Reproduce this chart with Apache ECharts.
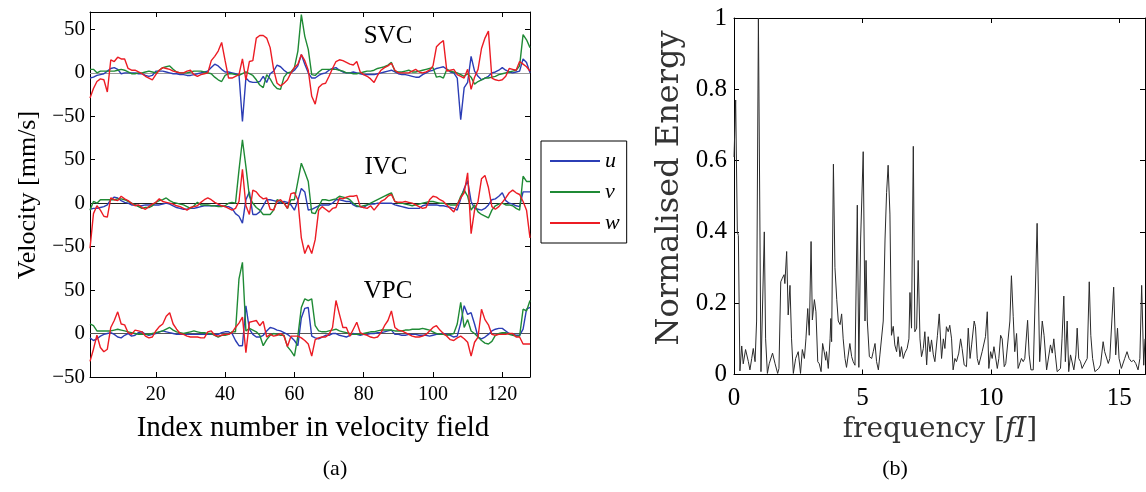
<!DOCTYPE html>
<html><head><meta charset="utf-8">
<script src="https://cdn.jsdelivr.net/npm/echarts@6/dist/echarts.min.js"></script>
<style>html,body{margin:0;padding:0;background:#fff}#c{width:1146px;height:492px}</style>
</head><body><div id="c"></div>
<script>
// ---------- panel (a) data ----------
const indexNumbers = Array.from({length:128}, (_, i) => i + 1);
const groupNames = ['SVC', 'IVC', 'VPC'];
const groupOffsets = [300, 150, 0];           // vertical stacking of the three groups
const xTickValues = [20, 40, 60, 80, 100, 120];
const yTickValues = [-50, 0, 50, 100, 150, 200, 250, 300, 350];

const SVC_u = [-6,-5,-3,-2,-1,2,5,6,4,-1, 0,0,0,0,-1,-1,-3,-4,-3,2, 2,2,1,0,-1,-1,-2,-2,-3,-3, -2,-1,0,1,2,6,10,8,4,1, 1,0,-1,-2,-56,-6,-10,-11,-11,-10, -4,-11,-1,2,9,7,3,0,0,3, 8,21,10,0,-6,-6,-3,-1,0,3, 5,6,3,1,0,0,1,0,-1,-2, -2,-2,-2,-1,0,1,2,3,1,-1, -2,-2,-3,-4,-5,-5,-2,0,2,3, 5,6,7,4,1,0,-6,-54,-17,-11, 19,2,-4,-8,-6,-4,0,1,3,6, 3,1,0,1,2,16,12,0];
const SVC_v = [4,4,0,2,2,2,2,2,3,4, 3,1,-1,-1,0,0,1,2,1,0, 3,6,7,8,4,1,0,0,0,1, 2,2,2,1,0,-1,-5,-8,-10,-3, -1,-1,-2,-3,-1,1,-1,-3,-8,-14, -17,-2,-7,-14,-18,-19,-5,0,1,6, 25,67,42,27,-2,-3,1,4,4,4, 4,4,3,2,0,0,-1,-1,0,1, 2,2,3,5,6,7,9,12,2,1, 1,2,3,1,1,2,3,4,5,6, -5,-4,-6,4,2,1,0,-2,-4,-1, -5,-13,-10,-8,-6,-6,-5,-4,-2,-1, 0,1,2,3,8,44,38,29];
const SVC_w = [-29,-18,-10,-7,-8,-22,15,13,18,16, 16,5,3,3,1,-1,-4,-6,-8,-2, 3,6,5,4,2,1,0,0,2,3, -2,-4,-2,-1,0,14,19,25,35,14, -6,-6,-4,-2,16,-8,13,14,40,43, 43,40,29,4,-12,-15,-12,-8,0,6, 10,21,14,3,-27,-36,-17,-13,-12,-4, 5,13,15,14,12,10,9,13,1,-2, -4,-7,-11,-3,3,6,8,11,3,0, 0,0,0,2,4,1,0,1,3,8, 30,34,37,2,3,4,-2,-4,-6,4, -19,-5,4,28,40,48,-6,-8,-9,-8, -4,5,4,3,13,10,7,2];

const IVC_u = [-7,-6,-6,-5,-4,-2,4,7,6,3, 1,0,-2,-2,-3,-3,-2,-2,-2,-2, -2,-1,0,-1,-3,-5,-6,-7,-7,-6, -6,-5,-4,-3,-3,-3,-3,-3,-3,-4, -4,-6,-12,-15,-23,4,13,-13,-13,-10, -3,4,4,3,2,0,2,1,-2,-8, 3,17,13,-8,-7,-5,-3,-2,-2,-2, 0,4,4,3,2,2,-2,-4,-4,-5, -2,-1,-1,0,0,0,0,0,-2,-3, -4,-5,-6,-6,-6,-6,-3,-2,-2,-2, -2,-3,-3,-4,-5,-6,-8,5,17,26, 2,-6,-7,-8,-6,-2,4,5,8,12, 3,0,-1,-3,-4,13,13,13];
const IVC_v = [-8,2,0,4,4,4,4,4,5,5, 4,2,0,-2,-4,-6,-5,-5,-3,1, 3,4,6,3,1,0,-1,-2,-4,-6, -3,1,-2,-2,-2,-3,-3,-4,-4,-3, 0,1,0,38,73,42,8,0,-5,-8, -13,-13,-13,-8,4,2,0,-6,4,4, 25,46,36,25,-11,-12,-4,4,4,3, 4,5,8,7,6,4,0,-3,-4,-3, -2,0,2,4,6,8,10,12,2,0, 0,-1,-2,-3,-2,-1,0,1,2,2, 1,0,0,-1,-2,-2,-2,8,15,8, -8,-2,-10,-13,-15,-17,-8,-3,-1,0, -2,-2,-3,-6,-8,31,25,25];
const IVC_w = [-52,-12,-3,-8,-15,-16,6,4,3,8, 5,3,0,-3,-2,-5,-7,-4,-1,1, 5,2,1,0,-1,-3,-4,-6,-8,-5, -4,-3,1,4,6,4,1,-1,-3,-4, -6,-8,-6,2,39,-3,-13,15,13,8, 5,6,-7,-8,2,4,0,-6,11,12, 4,-40,-58,-48,-58,-42,-8,-4,-7,-10, -6,-5,6,5,7,8,8,9,-4,-5, -6,-3,-8,-3,2,4,8,10,2,1, 1,2,1,0,-2,-4,-6,-5,4,8, 7,4,2,-2,-6,-10,-2,6,12,35, -35,-8,2,28,32,18,-4,-7,-4,1, 6,12,15,12,10,2,-8,-40];

const VPC_u = [-5,-8,-6,-3,-1,0,1,-1,-4,-5, -2,0,-3,-2,1,2,-1,-2,-1,0, 2,3,2,1,0,-1,-1,-1,-1,-1, -1,-1,-1,-1,-1,-1,-1,-1,1,2, 2,0,-8,-14,-14,32,5,-1,-4,-4, -2,3,7,6,4,3,1,-1,-4,-8, -14,18,29,30,-3,-5,-6,-4,-2,-2, 0,0,-2,-3,-4,-2,0,-1,-2,-1, -1,0,0,1,1,2,3,4,-1,-1, -2,-2,-1,-1,-1,-2,-2,-2,-3,-2, -1,-1,0,-1,-2,-4,-3,12,32,22, 24,11,-4,-6,-4,-1,3,5,6,6, 3,0,-1,-2,-2,5,28,30];
const VPC_v = [11,9,3,3,3,3,3,4,5,4, 3,2,1,0,-1,-1,-1,-1,0,1, 2,3,5,7,4,2,1,0,1,2, 3,2,1,1,0,0,-2,-4,-2,-2, -1,2,2,63,82,3,6,4,2,-2, -14,-7,-2,0,-1,-2,-2,-15,-20,-26, -3,30,40,38,40,9,3,2,2,3, 4,5,3,2,1,0,-1,-1,-1,0, 1,2,2,3,4,4,4,4,3,3, 3,4,4,5,5,5,6,5,4,2, 0,-1,-1,-2,-1,0,11,36,7,16, 3,0,-4,-8,-11,-12,-9,-2,0,1, 1,-1,-2,-3,-3,28,26,38];
const VPC_w = [-32,-18,-2,-16,-21,-18,7,15,25,11, 10,1,-1,4,3,2,-3,-5,-4,3, 8,11,20,24,11,5,0,-1,-3,-4, -4,-4,-5,-5,2,3,-2,-3,-2,-1, -1,1,7,12,19,-22,13,14,15,9, 14,-4,-1,-3,-2,0,-3,-15,-3,-3, -3,-5,-8,-12,-26,-7,-5,-4,-4,-1, 7,38,22,7,7,-3,5,13,1,-1, -2,-4,-5,-4,1,9,15,26,7,4, 3,1,-1,-3,-4,-4,-3,-1,3,7, 9,4,0,-3,-7,-8,-5,-3,-6,-10, -26,-10,-4,28,16,10,-1,-2,-1,-1, -1,0,0,-4,-4,-12,-12,-12];

// ---------- panel (b) data ----------
const frequency = [0,0.065,0.13,0.17,0.23,0.30,0.36,0.45,0.56,0.62,0.69,0.75,0.82,0.88,0.95,1.05,1.18,1.23,1.30,1.37,1.44,1.50,1.60,1.70,1.75,1.82,1.88,1.95,1.98,2.05,2.11,2.18,2.24,2.31,2.40,2.50,2.59,2.66,2.74,2.80,2.87,2.93,3.00,3.05,3.13,3.19,3.26,3.32,3.39,3.45,3.51,3.57,3.60,3.67,3.74,3.77,3.80,3.87,3.93,4.00,4.06,4.13,4.19,4.25,4.32,4.38,4.45,4.51,4.58,4.64,4.71,4.80,4.86,4.93,5.03,5.10,5.14,5.19,5.27,5.36,5.42,5.49,5.55,5.62,5.68,5.75,5.81,5.88,5.94,6.00,6.07,6.13,6.20,6.26,6.33,6.39,6.46,6.52,6.59,6.65,6.74,6.81,6.85,6.91,6.98,7.04,7.11,7.17,7.24,7.30,7.37,7.43,7.50,7.56,7.63,7.69,7.76,7.82,7.92,7.99,8.08,8.15,8.21,8.27,8.34,8.40,8.47,8.53,8.60,8.66,8.75,8.82,8.88,8.96,9.05,9.12,9.19,9.25,9.35,9.40,9.47,9.53,9.60,9.66,9.73,9.79,9.86,9.92,9.99,10.05,10.12,10.18,10.25,10.31,10.38,10.44,10.52,10.58,10.65,10.74,10.80,10.87,10.93,11.00,11.06,11.13,11.19,11.26,11.32,11.43,11.49,11.56,11.65,11.71,11.80,11.90,12.00,12.07,12.17,12.23,12.32,12.39,12.45,12.51,12.58,12.65,12.71,12.77,12.84,12.90,12.97,13.03,13.10,13.16,13.23,13.31,13.36,13.42,13.49,13.55,13.62,13.68,13.75,13.83,13.89,13.96,14.05,14.11,14.20,14.27,14.37,14.43,14.50,14.57,14.63,14.69,14.78,14.86,14.93,14.99,15.08,15.21,15.30,15.38,15.47,15.56,15.64,15.73,15.80,15.87,15.95,16.00];
const energy = [0.61,0.77,0.40,0.39,0.01,0.08,0.03,0.07,0.036,0.013,0.045,0.073,0.036,0.15,1.0,0.008,0.40,0.10,0.003,0.03,0.032,0.06,0.03,0.003,0.017,0.26,0.27,0.28,0.255,0.345,0.167,0.25,0.10,0.003,0.045,0.064,0.003,0.07,0.045,0.10,0.185,0.11,0.373,0.153,0.21,0.176,0.036,0.03,0.008,0.087,0.064,0.04,0.064,0.017,0.10,0.157,0.092,0.59,0.30,0.21,0.15,0.14,0.17,0.10,0.045,0.02,0.017,0.087,0.05,0.036,0.026,0.475,0.02,0.38,0.625,0.15,0.32,0.15,0.05,0.045,0.064,0.087,0.036,0.013,0.055,0.055,0.15,0.38,0.51,0.587,0.45,0.11,0.135,0.083,0.064,0.106,0.05,0.078,0.045,0.06,0.073,0.10,0.23,0.13,0.64,0.12,0.13,0.32,0.10,0.05,0.073,0.12,0.027,0.106,0.064,0.097,0.055,0.036,0.11,0.17,0.045,0.10,0.073,0.134,0.12,0.138,0.10,0.013,0.045,0.036,0.06,0.10,0.073,0.027,0.022,0.13,0.045,0.083,0.15,0.134,0.045,0.027,0.022,0.064,0.069,0.106,0.176,0.017,0.064,0.045,0.078,0.078,0.017,0.045,0.11,0.10,0.022,0.031,0.027,0.15,0.277,0.162,0.064,0.115,0.017,0.017,0.045,0.036,0.045,0.152,0.055,0.013,0.013,0.013,0.424,0.036,0.15,0.11,0.013,0.017,0.083,0.06,0.10,0.055,0.008,0.003,0.017,0.10,0.22,0.036,0.15,0.008,0.055,0.055,0.013,0.055,0.13,0.045,0.036,0.017,0.027,0.022,0.045,0.26,0.11,0.045,0.008,0.003,0.017,0.027,0.092,0.064,0.06,0.031,0.045,0.04,0.245,0.055,0.13,0.045,0.017,0.045,0.064,0.045,0.036,0.04,0.031,0.013,0.045,0.25,0.026,0.10];
const freqTickValues = [0, 5, 10, 15];

// ---------- styling ----------
const SERIF = "'Liberation Serif','Times New Roman',serif";
const CMLIKE = "'DejaVu Serif',serif";
const colors = {u: '#2B3DB5', v: '#1F8A35', w: '#EC1C24'};
const zeroLineColors = ['#9a9a9a', '#222', '#555'];
const groups = [
  {u: SVC_u, v: SVC_v, w: SVC_w},
  {u: IVC_u, v: IVC_v, w: IVC_w},
  {u: VPC_u, v: VPC_v, w: VPC_w}
];

const series = [];
groups.forEach((g, gi) => {
  const off = groupOffsets[gi];
  ['u', 'v', 'w'].forEach((comp, ci) => {
    const s = {
      type: 'line', name: comp, xAxisIndex: 0, yAxisIndex: 0,
      data: g[comp].map((val, i) => [indexNumbers[i], val + off]),
      symbol: 'none', showSymbol: false,
      lineStyle: {color: colors[comp], width: 1.4},
      itemStyle: {color: colors[comp]},
      emphasis: {disabled: true}, z: 3 + ci
    };
    if (ci === 0) {
      s.markLine = {
        silent: true, symbol: 'none', label: {show: false}, animation: false,
        lineStyle: {color: zeroLineColors[gi], width: 1, type: 'solid'},
        data: [{yAxis: off}], z: 1
      };
    }
    series.push(s);
  });
});
series.push({
  type: 'line', name: 'energy', xAxisIndex: 2, yAxisIndex: 2,
  data: frequency.map((f, i) => [f, energy[i]]),
  symbol: 'none', lineStyle: {color: '#2a2a2a', width: 1}, emphasis: {disabled: true}
});

const axisLine = {show: true, onZero: false, lineStyle: {color: '#000', width: 1}};
const tickIn = {show: true, inside: true, length: 5, lineStyle: {color: '#000', width: 1}};
const fmtY = v => { const r = ((v + 50) % 150 + 150) % 150 - 50; return r < 0 ? '\u2212' + Math.abs(r) : String(r); };

const chart = echarts.init(document.getElementById('c'), null, {renderer: 'canvas'});
chart.setOption({
  animation: false,
  backgroundColor: '#fff',
  grid: [
    {left: 90, top: 12, width: 440, height: 365},
    {left: 734, top: 18, width: 411, height: 356.5}
  ],
  legend: {
    data: [{name: 'u', icon: 'rect'}, {name: 'v', icon: 'rect'}, {name: 'w', icon: 'rect'}],
    orient: 'vertical', left: 541, top: 141, itemWidth: 50, itemHeight: 2, itemGap: 9,
    padding: [9, 7, 9, 9], borderColor: '#000', borderWidth: 1, backgroundColor: '#fff',
    selectedMode: false,
    textStyle: {fontFamily: SERIF, fontStyle: 'italic', fontSize: 22, color: '#000', lineHeight: 22}
  },
  xAxis: [
    {type: 'value', gridIndex: 0, min: 1, max: 128, position: 'bottom', axisLine, splitLine: {show: false},
     axisTick: Object.assign({}, tickIn, {customValues: xTickValues}),
     axisLabel: {customValues: xTickValues, fontFamily: SERIF, fontSize: 20, color: '#000', margin: 8}},
    {type: 'value', gridIndex: 0, min: 1, max: 128, position: 'top', axisLine, splitLine: {show: false},
     axisTick: Object.assign({}, tickIn, {customValues: xTickValues}), axisLabel: {show: false}},
    {type: 'value', gridIndex: 1, min: 0, max: 16, position: 'bottom', axisLine, splitLine: {show: false},
     axisTick: Object.assign({}, tickIn, {customValues: freqTickValues}),
     axisLabel: {customValues: freqTickValues, fontFamily: SERIF, fontSize: 25, color: '#000', margin: 11}},
    {type: 'value', gridIndex: 1, min: 0, max: 16, position: 'top', axisLine, splitLine: {show: false},
     axisTick: Object.assign({}, tickIn, {customValues: freqTickValues}), axisLabel: {show: false}}
  ],
  yAxis: [
    {type: 'value', gridIndex: 0, min: -50, max: 370, position: 'left', axisLine, splitLine: {show: false},
     axisTick: Object.assign({}, tickIn, {customValues: yTickValues}),
     axisLabel: {customValues: yTickValues, formatter: fmtY, fontFamily: SERIF, fontSize: 21, color: '#000', margin: 5}},
    {type: 'value', gridIndex: 0, min: -50, max: 370, position: 'right', axisLine, splitLine: {show: false},
     axisTick: Object.assign({}, tickIn, {customValues: yTickValues}), axisLabel: {show: false}},
    {type: 'value', gridIndex: 1, min: 0, max: 1, interval: 0.2, position: 'left', axisLine, splitLine: {show: false},
     axisTick: tickIn, axisLabel: {fontFamily: SERIF, fontSize: 25, color: '#000', margin: 7}},
    {type: 'value', gridIndex: 1, min: 0, max: 1, interval: 0.2, position: 'right', axisLine, splitLine: {show: false},
     axisTick: tickIn, axisLabel: {show: false}}
  ],
  graphic: [
    {type: 'text', x: 388, y: 36, z: 10, style: {text: groupNames[0], fontFamily: SERIF, fontSize: 25, fill: '#000', align: 'center', verticalAlign: 'middle'}},
    {type: 'text', x: 386, y: 167, z: 10, style: {text: groupNames[1], fontFamily: SERIF, fontSize: 25, fill: '#000', align: 'center', verticalAlign: 'middle'}},
    {type: 'text', x: 388, y: 291, z: 10, style: {text: groupNames[2], fontFamily: SERIF, fontSize: 25, fill: '#000', align: 'center', verticalAlign: 'middle'}},
    {type: 'text', x: 28, y: 195, rotation: Math.PI / 2, style: {text: 'Velocity [mm/s]', fontFamily: SERIF, fontSize: 26, fill: '#000', align: 'center', verticalAlign: 'middle'}},
    {type: 'text', x: 313, y: 428, style: {text: 'Index number in velocity field', fontFamily: SERIF, fontSize: 29, fill: '#000', align: 'center', verticalAlign: 'middle'}},
    {type: 'text', x: 335, y: 469, style: {text: '(a)', fontFamily: SERIF, fontSize: 22, fill: '#000', align: 'center', verticalAlign: 'middle'}},
    {type: 'text', x: 670, y: 188, rotation: Math.PI / 2, style: {text: 'Normalised Energy', fontFamily: CMLIKE, fontSize: 32, fill: '#333', align: 'center', verticalAlign: 'middle'}},
    {type: 'text', x: 940, y: 430, style: {text: 'frequency [{i|fI}]', rich: {i: {fontFamily: CMLIKE, fontStyle: 'italic', fontSize: 28, fill: '#333'}}, fontFamily: CMLIKE, fontSize: 28, fill: '#333', align: 'center', verticalAlign: 'middle'}},
    {type: 'text', x: 895, y: 469, style: {text: '(b)', fontFamily: SERIF, fontSize: 22, fill: '#000', align: 'center', verticalAlign: 'middle'}}
  ],
  series
});
</script></body></html>
